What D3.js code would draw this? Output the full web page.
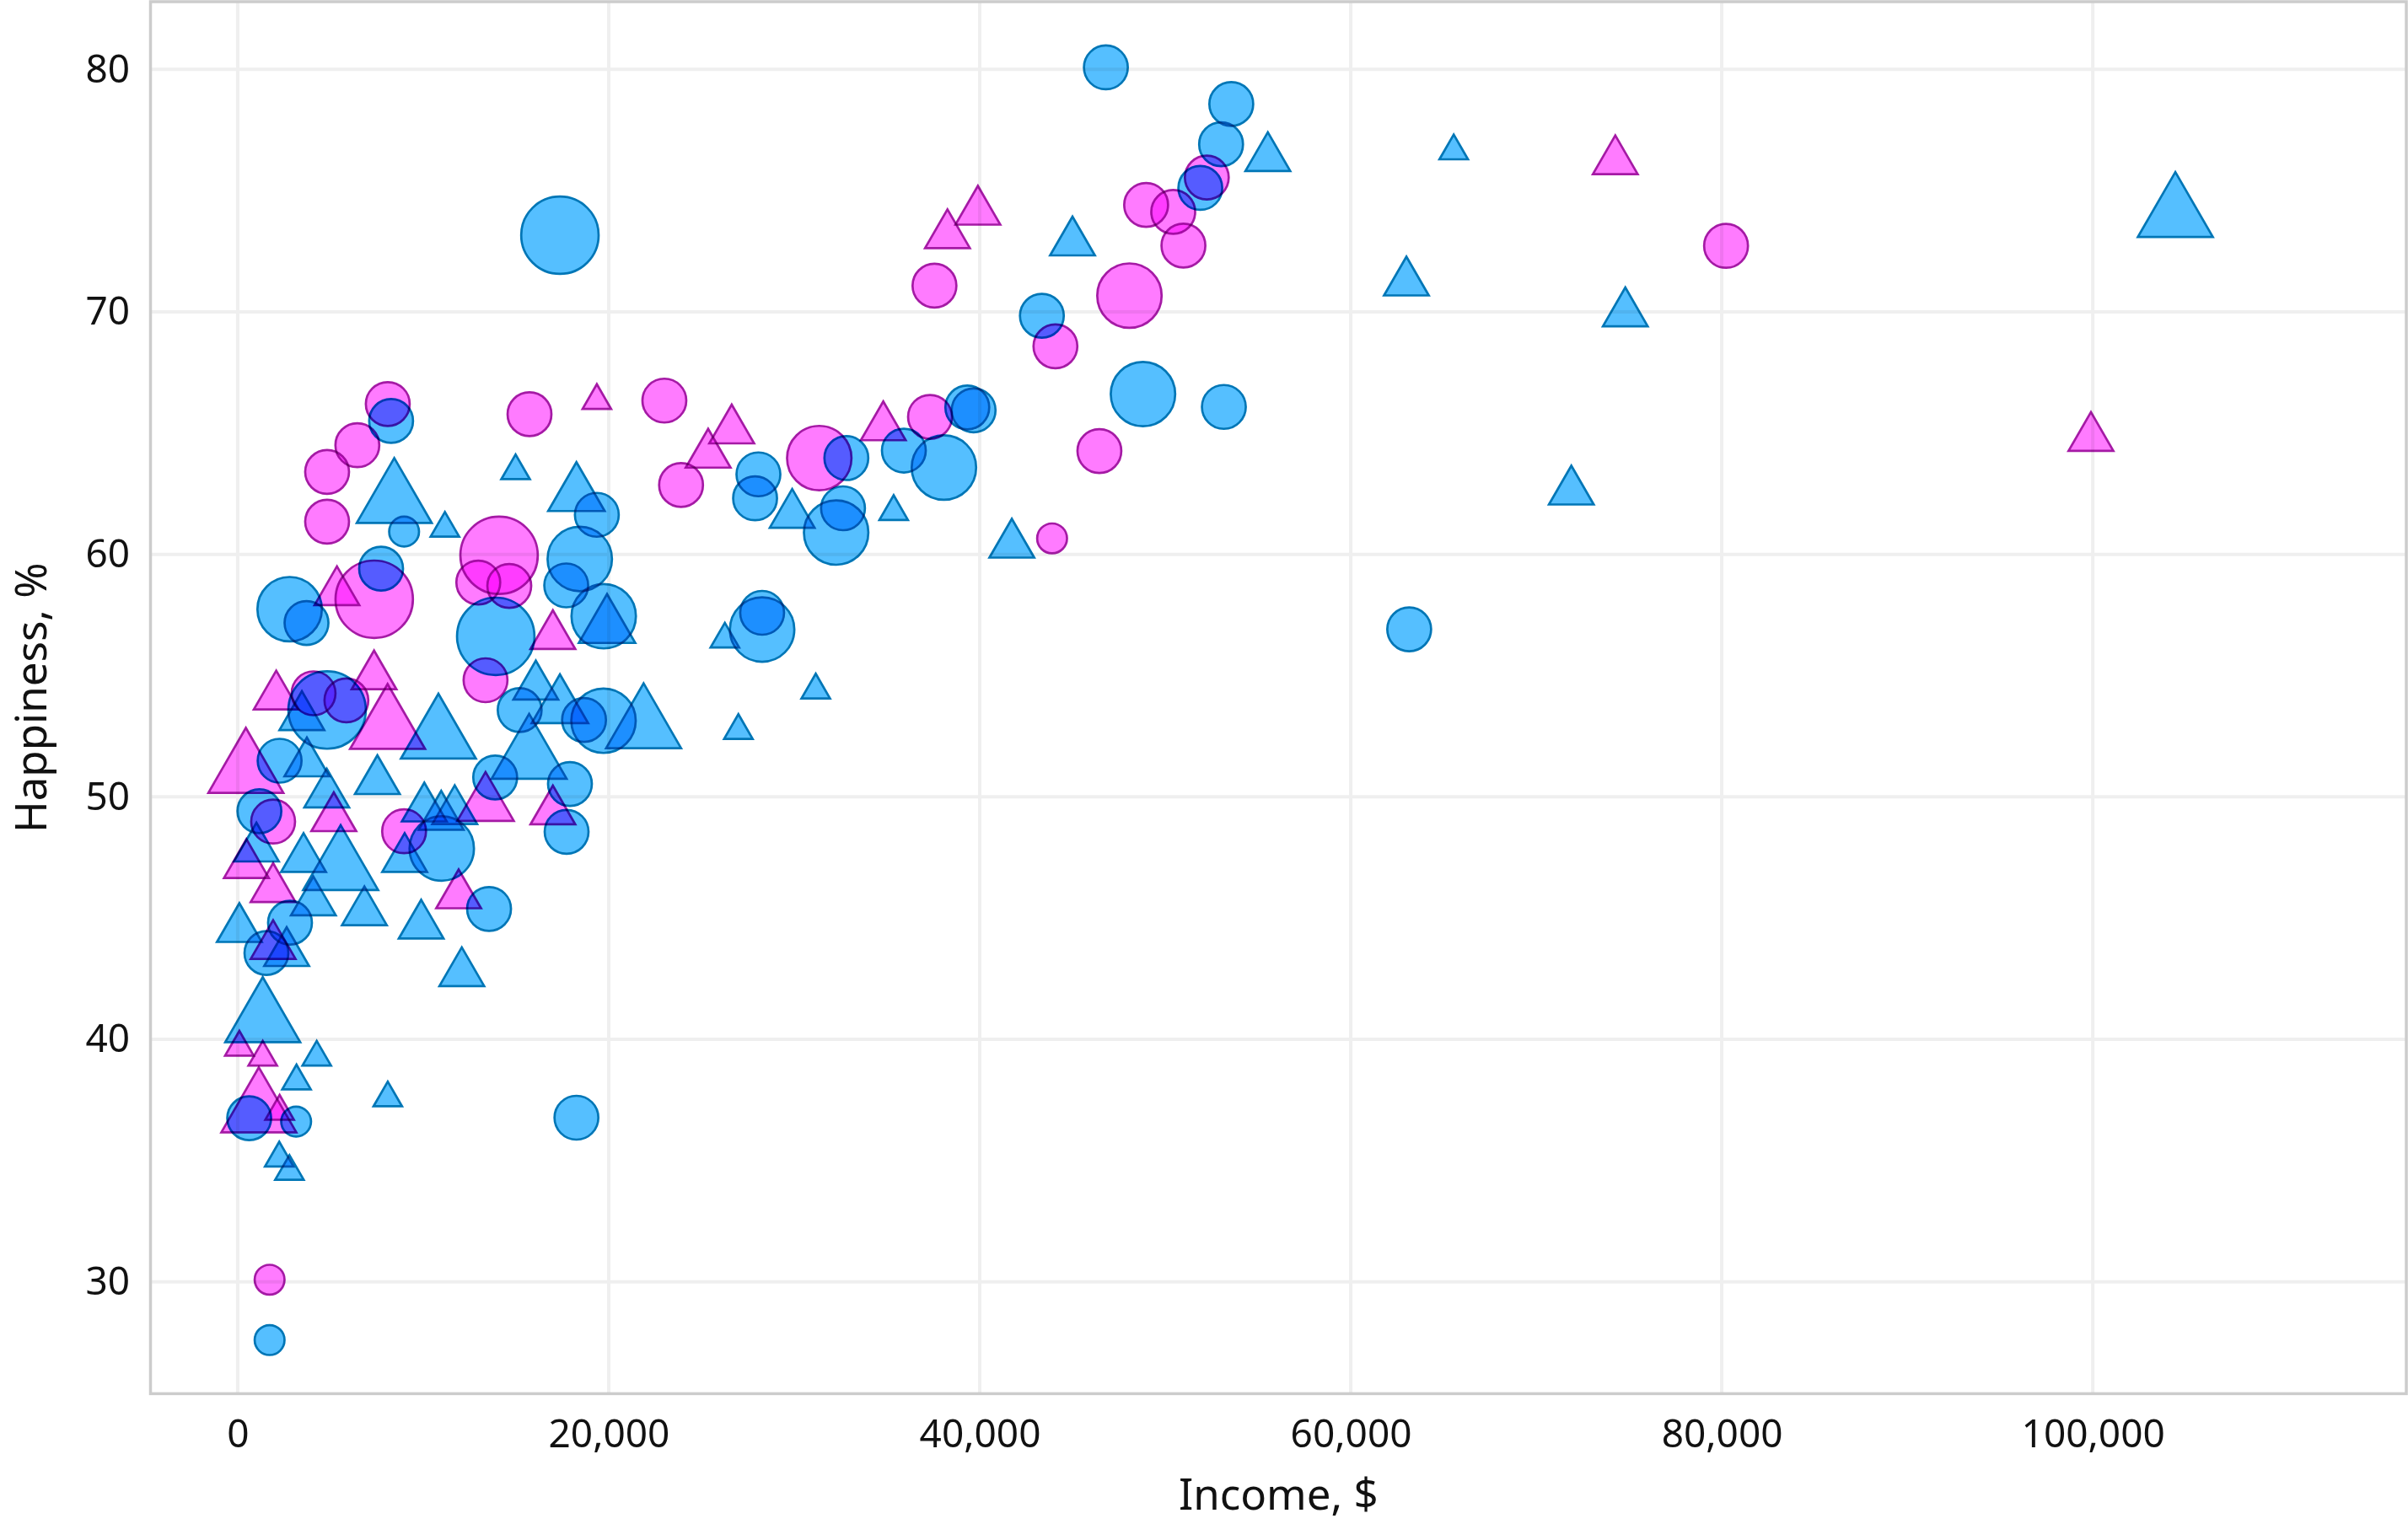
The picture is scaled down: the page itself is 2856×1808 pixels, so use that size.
<!DOCTYPE html>
<html>
<head>
<meta charset="utf-8">
<script src="https://cdn.jsdelivr.net/npm/d3@7"></script>
<style>
  html, body { margin: 0; padding: 0; background: #ffffff; }
  svg { display: block; font-family: "Noto Sans", "Open Sans", sans-serif; }
</style>
</head>
<body>
<svg id="chart" width="2856" height="1808"></svg>
<script>
// ---- Data: [income $, happiness %, size band 1..4] ----
const blueCircles = [
  [46800,80.08,2],[53560,78.57,2],[53010,76.91,2],[51890,75.11,2],[43350,69.84,2],
  [48800,66.61,3],[53160,66.08,2],[39330,66.06,2],[39670,65.94,2],[63150,56.91,2],
  [17370,73.16,4],[8270,65.5,2],[8970,60.94,1],[13910,56.62,4],[7730,59.41,2],
  [2800,57.74,3],[3710,57.17,2],[28070,63.3,2],[27890,62.31,2],[32810,63.97,2],
  [32630,61.9,2],[32260,60.9,3],[35910,64.28,2],[38070,63.58,3],[19360,61.63,2],
  [18440,59.81,3],[17710,58.72,2],[19730,57.45,3],[28270,56.9,3],[28270,57.59,2],
  [4820,53.58,4],[15200,53.58,2],[18670,53.17,2],[19720,53.14,3],[2260,51.49,2],
  [13880,50.8,2],[1170,49.41,2],[11000,47.87,3],[13550,45.38,2],[17910,50.53,2],
  [17730,48.56,2],[2820,44.81,2],[1550,43.56,2],[620,36.75,2],[3150,36.61,1],
  [1720,27.6,1],[18260,36.77,2]
];
const blueTriangles = [
  [55530,76.34,2],[65550,76.63,1],[45000,72.86,2],[104450,73.98,4],[63000,71.21,2],
  [74800,69.94,2],[71890,62.59,2],[41730,60.4,2],[8440,62.19,4],[11170,61.07,1],
  [14980,63.44,1],[16070,54.55,2],[18260,62.46,3],[29890,61.63,2],[35360,61.76,1],
  [19910,57.02,3],[26260,56.5,1],[31160,54.4,1],[26990,52.73,1],[21880,52.9,4],
  [17370,53.71,3],[3460,53.29,2],[10820,52.47,4],[15710,51.64,4],[3730,51.38,2],
  [4800,50.1,2],[7530,50.65,2],[1010,47.87,2],[3550,47.44,2],[5550,47.05,4],
  [4080,45.65,2],[6830,45.24,2],[90,44.55,2],[2640,43.56,2],[9890,44.69,2],
  [12080,42.73,2],[9000,47.44,2],[10060,49.52,2],[10970,49.18,2],[11700,49.41,2],
  [1350,40.78,4],[4260,39.26,1],[3170,38.28,1],[8090,37.58,1],[2240,35.1,1],
  [2790,34.55,1]
];
const pinkCircles = [
  [52240,75.54,2],[48970,74.41,2],[50430,74.12,2],[50980,72.73,2],[37560,71.08,2],
  [48070,70.67,3],[44080,68.58,2],[46450,64.26,2],[43900,60.66,1],[37320,65.67,2],
  [31350,63.97,3],[23000,66.34,2],[23900,62.86,2],[15730,65.78,2],[8090,66.2,2],
  [6450,64.5,2],[4820,63.4,2],[4820,61.35,2],[14090,59.96,4],[12970,58.84,2],
  [14640,58.7,2],[13360,54.81,2],[7360,58.15,4],[4090,54.27,2],[5860,53.98,2],
  [1910,48.98,2],[8970,48.58,2],[1720,30.09,1],[80230,72.72,2]
];
const pinkTriangles = [
  [74260,76.21,2],[99900,64.8,2],[39900,74.13,2],[38260,73.16,2],[19360,66.34,1],
  [26630,65.11,2],[25360,64.11,2],[34800,65.24,2],[5350,58.44,2],[7350,54.97,2],
  [2077,54.14,2],[16990,56.63,2],[8080,52.87,4],[440,51.06,4],[470,47.19,2],
  [1910,46.2,2],[5180,49.12,2],[13360,49.68,3],[11910,45.94,2],[1910,43.85,2],
  [90,39.67,1],[1350,39.26,1],[1140,37.06,4],[2260,37.03,1],[16990,49.4,2]
];
const xTicks = [0, 20000, 40000, 60000, 80000, 100000];
const yTicks = [30, 40, 50, 60, 70, 80];
const xTitle = "Income, $";
const yTitle = "Happiness, %";

// ---- Layout / style ----
const W = 2856, H = 1808;
const plot = { left: 178.5, right: 2854, top: 2, bottom: 1653.4 };
const palette = {
  blue: { fill: "#55BFFF", stroke: "#0076B6" },
  pink: { fill: "#FF7BFF", stroke: "#A51AA5" }
};
const strokeW = 2.7;
// geometric size per band: circle radius, triangle height
const circleRadius = d3.scaleOrdinal().domain([1,2,3,4]).range([17.7, 26, 38.2, 45.9]);
const triangleHeight = d3.scaleOrdinal().domain([1,2,3,4]).range([29.3, 46, 58, 77]);

const svg = d3.select("#chart");
const x = d3.scaleLinear().domain([-4700, 116900]).range([plot.left, plot.right]);
const y = d3.scaleLinear().domain([25.39, 82.79]).range([plot.bottom, plot.top]);

svg.append("rect").attr("width", W).attr("height", H).attr("fill", "#ffffff");

// grid
const grid = svg.append("g");
grid.selectAll("line.gx").data(xTicks).join("line")
  .attr("x1", d => x(d)).attr("x2", d => x(d))
  .attr("y1", plot.top).attr("y2", plot.bottom)
  .attr("stroke", "#efefef").attr("stroke-width", 4);
grid.selectAll("line.gy").data(yTicks).join("line")
  .attr("x1", plot.left).attr("x2", plot.right)
  .attr("y1", d => y(d)).attr("y2", d => y(d))
  .attr("stroke", "#efefef").attr("stroke-width", 4);

// marks
const series = [
  { data: blueCircles, col: palette.blue, kind: "circle" },
  { data: blueTriangles, col: palette.blue, kind: "triangle" },
  { data: pinkCircles, col: palette.pink, kind: "circle" },
  { data: pinkTriangles, col: palette.pink, kind: "triangle" }
];
const marks = svg.append("g");
series.forEach(s => {
  const sym = d3.symbol()
    .type(s.kind === "circle" ? d3.symbolCircle : d3.symbolTriangle)
    .size(d => s.kind === "circle"
      ? Math.PI * Math.pow(circleRadius(d[2]), 2)
      : Math.pow(triangleHeight(d[2]), 2) / Math.sqrt(3));
  marks.append("g").selectAll("path").data(s.data).join("path")
    .attr("transform", d => `translate(${x(d[0])},${y(d[1])})`)
    .attr("d", sym)
    .attr("fill", s.col.fill)
    .attr("stroke", s.col.stroke)
    .attr("stroke-width", strokeW)
    .style("mix-blend-mode", "multiply");
});

// frame
svg.append("rect")
  .attr("x", plot.left).attr("y", plot.top)
  .attr("width", plot.right - plot.left).attr("height", plot.bottom - plot.top)
  .attr("fill", "none").attr("stroke", "#cccccc").attr("stroke-width", 3.5);

// axes
const fmt = d3.format(",");
const xAxis = svg.append("g")
  .attr("transform", `translate(0,${plot.bottom})`)
  .call(d3.axisBottom(x).tickValues(xTicks).tickFormat(fmt).tickSize(0).tickPadding(31));
const yAxis = svg.append("g")
  .attr("transform", `translate(${plot.left},0)`)
  .call(d3.axisLeft(y).tickValues(yTicks).tickSize(0).tickPadding(24.5));
[xAxis, yAxis].forEach(a => {
  a.select(".domain").remove();
  a.selectAll("text").attr("font-size", 46).attr("fill", "#111")
    .attr("font-family", "'Noto Sans', 'Open Sans', sans-serif");
});

svg.append("text")
  .attr("x", (plot.left + plot.right) / 2).attr("y", 1791)
  .attr("text-anchor", "middle").attr("font-size", 51).attr("fill", "#111")
  .text(xTitle);
svg.append("text")
  .attr("transform", `translate(55,${(plot.top + plot.bottom) / 2}) rotate(-90)`)
  .attr("text-anchor", "middle").attr("font-size", 51).attr("fill", "#111")
  .text(yTitle);
</script>
</body>
</html>
